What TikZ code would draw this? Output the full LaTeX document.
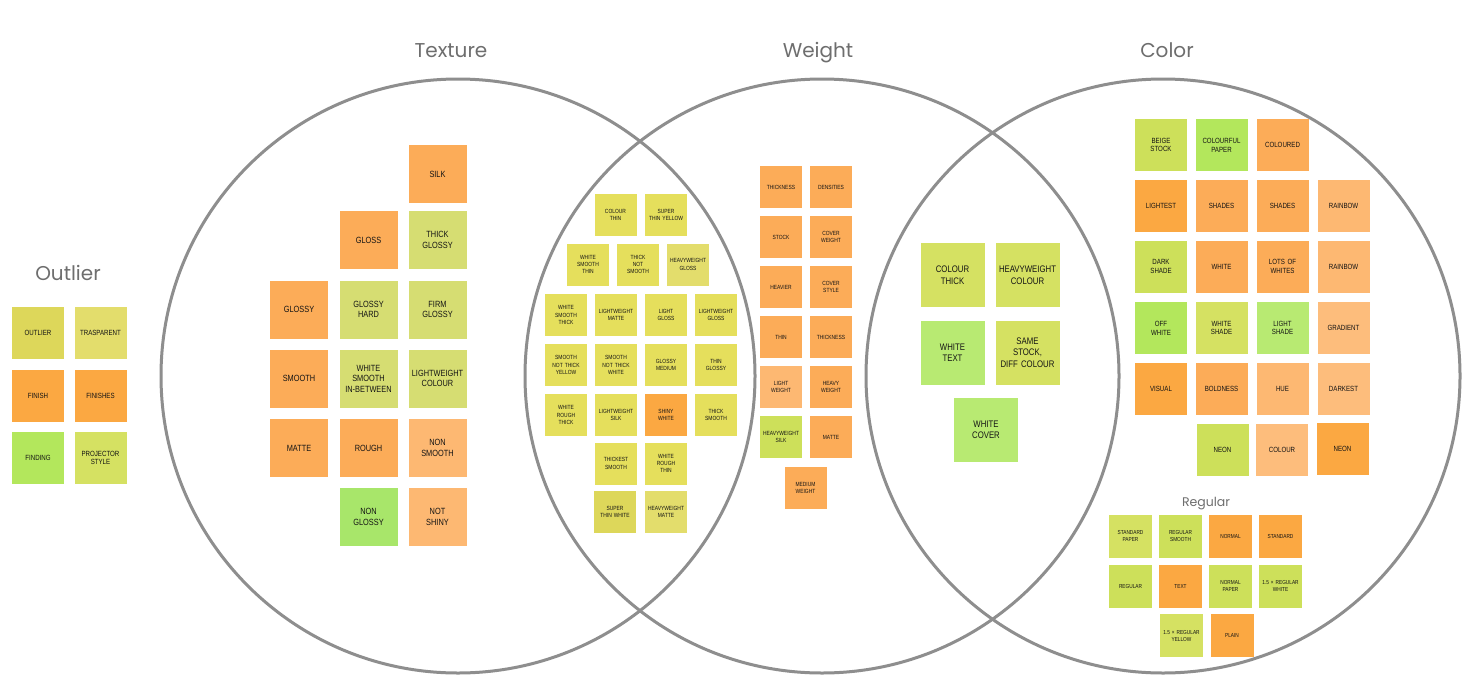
\documentclass[tikz,border=0pt]{standalone}
\usepackage{fontspec}
\setmainfont{Poppins}
\newfontfamily\notefont[FakeStretch=0.82]{Liberation Sans}
\newcommand\nohy{\hyphenpenalty=10000\exhyphenpenalty=10000\relax}
\definecolor{ring}{HTML}{8E8E8E}
\definecolor{ttl}{HTML}{6E6E6E}
\definecolor{ink}{HTML}{141414}
\definecolor{orA}{HTML}{FCAC58}
\definecolor{orD}{HTML}{FBA842}
\definecolor{orL}{HTML}{FDB872}
\definecolor{orP}{HTML}{FDBD7C}
\definecolor{olv}{HTML}{D6DD72}
\definecolor{ylw}{HTML}{E5DF5C}
\definecolor{ylwD}{HTML}{DDD75A}
\definecolor{ylwL}{HTML}{E3DD6C}
\definecolor{lime}{HTML}{CDE05A}
\definecolor{limeL}{HTML}{D5E162}
\definecolor{grn}{HTML}{B3E75C}
\definecolor{grnL}{HTML}{B8EA72}
\definecolor{grnT}{HTML}{A8E66A}
\tikzset{
  ringc/.style={circle, draw=ring, line width=3pt, minimum size=594pt, inner sep=0pt},
  title/.style={text=ttl, font=\fontsize{20}{22}\selectfont, inner sep=0pt, anchor=base},
  note/.style={inner sep=0pt, align=center, text=ink},
  nOut/.style={note, minimum size=52pt, text width=48pt, font=\notefont\nohy\fontsize{7.5}{8.8}\selectfont},
  nTex/.style={note, minimum size=58pt, text width=54pt, font=\notefont\nohy\fontsize{9}{10.5}\selectfont},
  nSm/.style={note, minimum size=42pt, text width=39pt, font=\notefont\nohy\fontsize{6}{7.2}\selectfont},
  nBig/.style={note, minimum size=64pt, text width=60pt, font=\notefont\nohy\fontsize{9.5}{11.5}\selectfont},
  nCol/.style={note, minimum size=52pt, text width=48pt, font=\notefont\nohy\fontsize{7.5}{8.8}\selectfont},
  nReg/.style={note, minimum size=43pt, text width=40pt, font=\notefont\nohy\fontsize{5.8}{7}\selectfont},
}
\begin{document}
\begin{tikzpicture}[x=1pt,y=-1pt]
\path[use as bounding box, fill=white] (0,0) rectangle (1469,680);
% circles
\node[ringc] (ctex) at (458,376) {};
\node[ringc] (cwei) at (822,376) {};
\node[ringc] (ccol) at (1163,376) {};
% titles
\node[title] (ttex) at (451,57) {Texture};
\node[title] (twei) at (818,57) {Weight};
\node[title] (tcol) at (1167,57) {Color};
\node[title] (tout) at (68,280) {Outlier};
\node[title, font=\fontsize{12.5}{14}\selectfont] (treg) at (1206,506) {Regular};
% Outlier
\node[nOut, fill=ylwD] (o1) at (38,333) {OUTLIER};
\node[nOut, fill=ylwL] (o2) at (100.5,333) {TRASPARENT};
\node[nOut, fill=orD] (o3) at (38,395.5) {FINISH};
\node[nOut, fill=orD] (o4) at (100.5,395.5) {FINISHES};
\node[nOut, fill=grn] (o5) at (38,458) {FINDING};
\node[nOut, fill=limeL] (o6) at (100.5,458) {PROJECTOR\\STYLE};
% Texture
\node[nTex, fill=orA] (t1) at (437.5,174) {SILK};
\node[nTex, fill=orA] (t2) at (368.5,240) {GLOSS};
\node[nTex, fill=olv] (t3) at (437.5,240) {THICK\\GLOSSY};
\node[nTex, fill=orA] (t4) at (299,309.5) {GLOSSY};
\node[nTex, fill=olv] (t5) at (368.5,309.5) {GLOSSY\\HARD};
\node[nTex, fill=olv] (t6) at (437.5,309.5) {FIRM\\GLOSSY};
\node[nTex, fill=orA] (t7) at (299,378.5) {SMOOTH};
\node[nTex, fill=olv] (t8) at (368.5,378.5) {WHITE\\SMOOTH\\IN-BETWEEN};
\node[nTex, fill=olv] (t9) at (437.5,378.5) {LIGHTWEIGHT\\COLOUR};
\node[nTex, fill=orA] (t10) at (299,448) {MATTE};
\node[nTex, fill=orA] (t11) at (368.5,448) {ROUGH};
\node[nTex, fill=orL] (t12) at (437.5,448) {NON\\SMOOTH};
\node[nTex, fill=grnT] (t13) at (368.5,517) {NON\\GLOSSY};
\node[nTex, fill=orL] (t14) at (437.5,517) {NOT\\SHINY};
% Texture / Weight overlap
\node[nSm, fill=ylw] (w1) at (615.5,215) {COLOUR\\THIN};
\node[nSm, fill=ylw] (w2) at (666,215) {SUPER\\THIN YELLOW};
\node[nSm, fill=ylw] (w3) at (588,264.5) {WHITE\\SMOOTH\\THIN};
\node[nSm, fill=ylw] (w4) at (638,264.5) {THICK\\NOT\\SMOOTH};
\node[nSm, fill=ylwL] (w5) at (688,264.5) {HEAVYWEIGHT\\GLOSS};
\node[nSm, fill=ylw] (w6) at (566,315) {WHITE\\SMOOTH\\THICK};
\node[nSm, fill=ylw] (w7) at (616,315) {LIGHTWEIGHT\\MATTE};
\node[nSm, fill=ylw] (w8) at (666,315) {LIGHT\\GLOSS};
\node[nSm, fill=ylw] (w9) at (716,315) {LIGHTWEIGHT\\GLOSS};
\node[nSm, fill=ylw] (w10) at (566,365) {SMOOTH\\NOT THICK\\YELLOW};
\node[nSm, fill=ylw] (w11) at (616,365) {SMOOTH\\NOT THICK\\WHITE};
\node[nSm, fill=ylw] (w12) at (666,365) {GLOSSY\\MEDIUM};
\node[nSm, fill=ylw] (w13) at (716,365) {THIN\\GLOSSY};
\node[nSm, fill=ylw] (w14) at (566,415) {WHITE\\ROUGH\\THICK};
\node[nSm, fill=ylw] (w15) at (616,415) {LIGHTWEIGHT\\SILK};
\node[nSm, fill=orD] (w16) at (666,415) {SHINY\\WHITE};
\node[nSm, fill=ylw] (w17) at (716,415) {THICK\\SMOOTH};
\node[nSm, fill=ylw] (w18) at (616,463.5) {THICKEST\\SMOOTH};
\node[nSm, fill=ylw] (w19) at (666,463.5) {WHITE\\ROUGH\\THIN};
\node[nSm, fill=ylwD] (w20) at (615,512) {SUPER\\THIN WHITE};
\node[nSm, fill=ylwL] (w21) at (666,512) {HEAVYWEIGHT\\MATTE};
% Weight
\node[nSm, fill=orA] (k1) at (781,187) {THICKNESS};
\node[nSm, fill=orA] (k2) at (831,187) {DENSITIES};
\node[nSm, fill=orA] (k3) at (781,237) {STOCK};
\node[nSm, fill=orA] (k4) at (831,237) {COVER\\WEIGHT};
\node[nSm, fill=orA] (k5) at (781,287) {HEAVIER};
\node[nSm, fill=orA] (k6) at (831,287) {COVER\\STYLE};
\node[nSm, fill=orA] (k7) at (781,337) {THIN};
\node[nSm, fill=orA] (k8) at (831,337) {THICKNESS};
\node[nSm, fill=orL] (k9) at (781,387) {LIGHT\\WEIGHT};
\node[nSm, fill=orA] (k10) at (831,387) {HEAVY\\WEIGHT};
\node[nSm, fill=lime] (k11) at (781,437) {HEAVYWEIGHT\\SILK};
\node[nSm, fill=orA] (k12) at (831,437) {MATTE};
\node[nSm, fill=orA] (k13) at (805.5,488) {MEDIUM\\WEIGHT};
% Weight / Color overlap
\node[nBig, fill=limeL] (m1) at (952.5,275) {COLOUR\\THICK};
\node[nBig, fill=limeL] (m2) at (1027.5,275) {HEAVYWEIGHT\\COLOUR};
\node[nBig, fill=grnL] (m3) at (952.5,352.5) {WHITE\\TEXT};
\node[nBig, fill=limeL] (m4) at (1027.5,352.5) {SAME\\STOCK,\\DIFF COLOUR};
\node[nBig, fill=grnL] (m5) at (986,430) {WHITE\\COVER};
% Color
\node[nCol, fill=lime] (c1) at (1161,145) {BEIGE\\STOCK};
\node[nCol, fill=grn] (c2) at (1221.5,145) {COLOURFUL\\PAPER};
\node[nCol, fill=orA] (c3) at (1282.5,145) {COLOURED};
\node[nCol, fill=orD] (c4) at (1161,206) {LIGHTEST};
\node[nCol, fill=orA] (c5) at (1221.5,206) {SHADES};
\node[nCol, fill=orA] (c6) at (1282.5,206) {SHADES};
\node[nCol, fill=orL] (c7) at (1343.5,206) {RAINBOW};
\node[nCol, fill=lime] (c8) at (1161,266.5) {DARK\\SHADE};
\node[nCol, fill=orA] (c9) at (1221.5,266.5) {WHITE};
\node[nCol, fill=orA] (c10) at (1282.5,266.5) {LOTS OF\\WHITES};
\node[nCol, fill=orL] (c11) at (1343.5,266.5) {RAINBOW};
\node[nCol, fill=grn] (c12) at (1161,328) {OFF\\WHITE};
\node[nCol, fill=limeL] (c13) at (1221.5,328) {WHITE\\SHADE};
\node[nCol, fill=grnL] (c14) at (1282.5,328) {LIGHT\\SHADE};
\node[nCol, fill=orP] (c15) at (1343.5,328) {GRADIENT};
\node[nCol, fill=orD] (c16) at (1161,388.5) {VISUAL};
\node[nCol, fill=orA] (c17) at (1221.5,388.5) {BOLDNESS};
\node[nCol, fill=orL] (c18) at (1282.5,388.5) {HUE};
\node[nCol, fill=orP] (c19) at (1343.5,388.5) {DARKEST};
\node[nCol, fill=lime] (c20) at (1222.5,449.5) {NEON};
\node[nCol, fill=orP] (c21) at (1282,449.5) {COLOUR};
\node[nCol, fill=orD] (c22) at (1342.5,448.5) {NEON};
% Regular
\node[nReg, fill=limeL] (r1) at (1130.5,536) {STANDARD\\PAPER};
\node[nReg, fill=lime] (r2) at (1180.5,536) {REGULAR\\SMOOTH};
\node[nReg, fill=orD] (r3) at (1230.5,536) {NORMAL};
\node[nReg, fill=orD] (r4) at (1280.5,536) {STANDARD};
\node[nReg, fill=lime] (r5) at (1130.5,586) {REGULAR};
\node[nReg, fill=orD] (r6) at (1180.5,586) {TEXT};
\node[nReg, fill=lime] (r7) at (1230.5,586) {NORMAL\\PAPER};
\node[nReg, fill=lime] (r8) at (1280.5,586) {1.5 × REGULAR\\WHITE};
\node[nReg, fill=limeL] (r9) at (1181.5,635.5) {1.5 × REGULAR\\YELLOW};
\node[nReg, fill=orD] (r10) at (1232,635.5) {PLAIN};
\end{tikzpicture}
\end{document}
